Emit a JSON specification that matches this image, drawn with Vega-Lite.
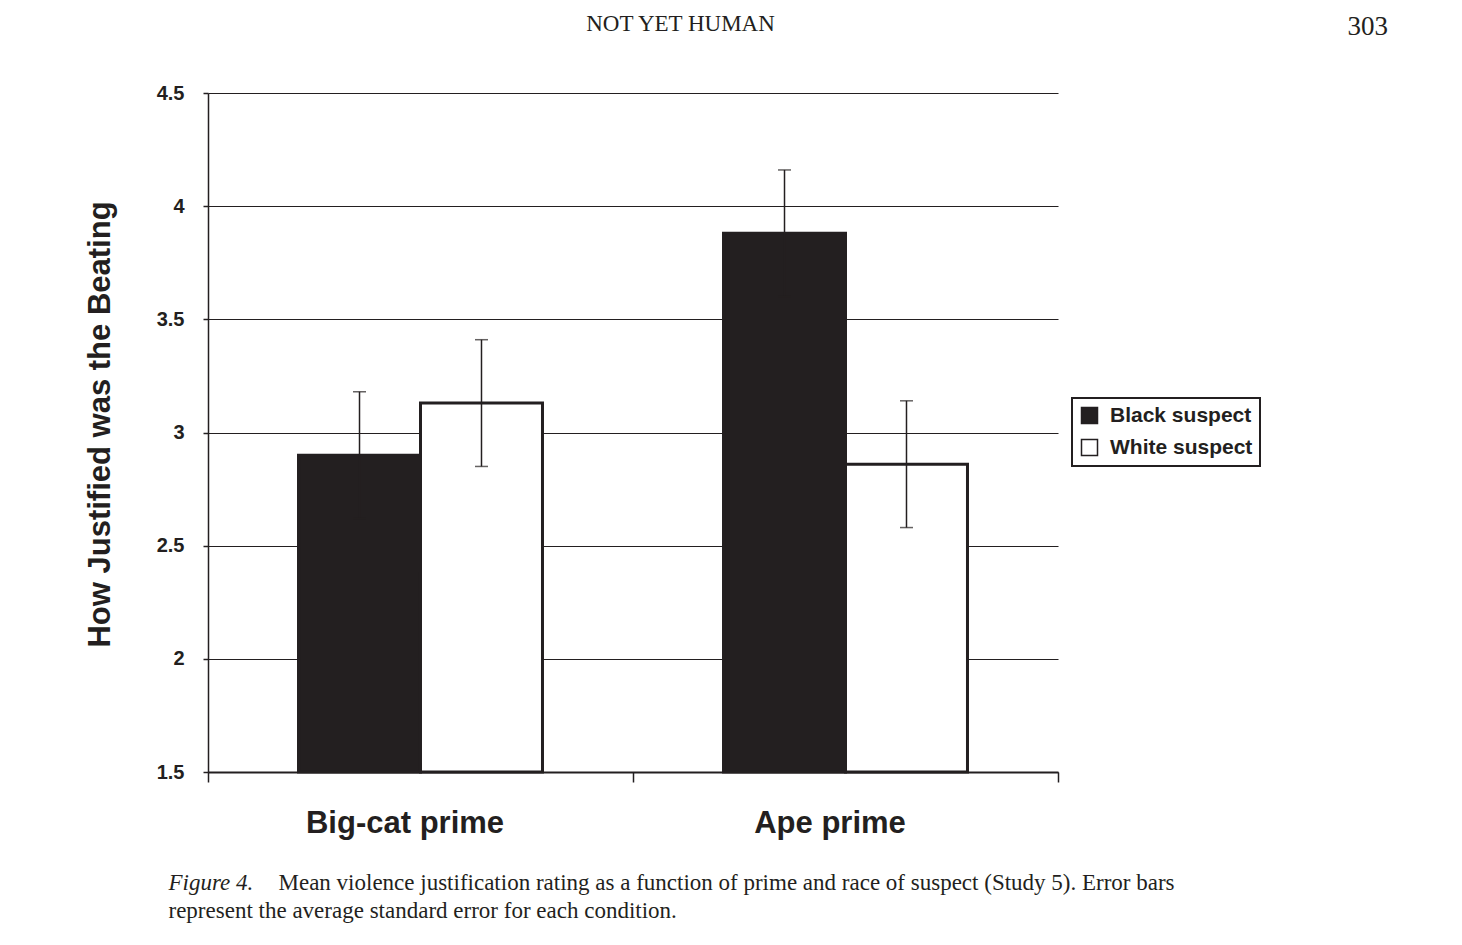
{
  "$schema": "https://vega.github.io/schema/vega-lite/v6.json",
  "width": 850,
  "height": 679,
  "autosize": "none",
  "padding": {"left": 208, "top": 93, "right": 404, "bottom": 173},
  "background": "white",
  "config": {"view": {"stroke": null}, "font": "Liberation Sans"},
  "data": {"values": [
    {"prime": "Big-cat prime", "race": "Black suspect", "mean": 2.90, "lo": 2.62, "hi": 3.18},
    {"prime": "Big-cat prime", "race": "White suspect", "mean": 3.13, "lo": 2.85, "hi": 3.41},
    {"prime": "Ape prime", "race": "Black suspect", "mean": 3.88, "lo": 3.60, "hi": 4.16},
    {"prime": "Ape prime", "race": "White suspect", "mean": 2.86, "lo": 2.58, "hi": 3.14}
  ]},
  "resolve": {"axis": {"x": "independent", "y": "independent"}},
  "layer": [
    {
      "mark": {"type": "bar", "stroke": "#231f20", "strokeWidth": 3},
      "encoding": {
        "x": {
          "field": "prime", "type": "nominal", "sort": ["Big-cat prime", "Ape prime"],
          "scale": {"paddingInner": 0, "paddingOuter": 0},
          "axis": {
            "title": "Mean violence justification rating as a function of prime and race of suspect (Study 5). Error bars",
            "titleFont": "Liberation Serif", "titleFontSize": 23, "titleFontWeight": "normal", "titleColor": "#231f20",
            "titleX": 70, "titleY": 117, "titleAlign": "left", "titleAnchor": "start", "titleBaseline": "alphabetic", "titleLimit": 0,
            "labelAngle": 0, "labelFont": "Liberation Sans", "labelFontSize": 31, "labelFontWeight": "bold", "labelColor": "#231f20",
            "labelPadding": 50, "labelBaseline": "alphabetic", "labelOffset": -16, "labelLimit": 0,
            "tickBand": "extent", "tickSize": 10, "tickColor": "#231f20", "tickWidth": 1.5,
            "domainColor": "#231f20", "domainWidth": 2, "grid": false
          }
        },
        "xOffset": {"field": "race", "type": "nominal", "sort": ["Black suspect", "White suspect"], "scale": {"paddingInner": 0, "paddingOuter": 0.742}},
        "y": {
          "field": "mean", "type": "quantitative",
          "scale": {"domain": [1.5, 4.5], "zero": false, "nice": false},
          "axis": {
            "title": "How Justified was the Beating", "titleFont": "Liberation Sans", "titleFontSize": 31, "titleFontWeight": "bold", "titleColor": "#231f20",
            "titleAngle": -90, "titleX": -108, "titleY": 331, "titleAlign": "center", "titleBaseline": "middle",
            "values": [1.5, 2, 2.5, 3, 3.5, 4, 4.5], "format": "~g",
            "labelFont": "Liberation Sans", "labelFontSize": 20, "labelFontWeight": "bold", "labelColor": "#231f20", "labelPadding": 19,
            "tickSize": 5, "tickColor": "#231f20", "tickWidth": 1.5,
            "domainColor": "#231f20", "domainWidth": 1.5,
            "grid": true, "gridColor": "#231f20", "gridWidth": 1.2, "gridOpacity": 1
          }
        },
        "y2": {"datum": 1.5},
        "color": {
          "field": "race", "type": "nominal",
          "scale": {"domain": ["Black suspect", "White suspect"], "range": ["#231f20", "#ffffff"]},
          "legend": {
            "orient": "none", "legendX": 864, "legendY": 305, "title": null,
            "strokeColor": "#231f20", "fillColor": "#ffffff", "padding": 7,
            "symbolType": "square", "symbolSize": 256, "symbolStrokeColor": "#231f20", "symbolStrokeWidth": 1.5,
            "labelFont": "Liberation Sans", "labelFontSize": 21, "labelFontWeight": "bold", "labelColor": "#231f20",
            "labelOffset": 10, "rowPadding": 9, "labelLimit": 0,
            "encode": {"legend": {"update": {"strokeWidth": {"value": 2}}}}
          }
        }
      }
    },
    {
      "mark": {"type": "rule", "color": "#231f20", "strokeWidth": 1.5},
      "encoding": {
        "x": {
          "field": "prime", "type": "nominal", "sort": ["Big-cat prime", "Ape prime"],
          "axis": {
            "orient": "top", "domain": false, "ticks": false, "labels": false, "grid": false,
            "title": "NOT YET HUMAN", "titleFont": "Liberation Serif", "titleFontSize": 23, "titleFontWeight": "normal", "titleColor": "#231f20",
            "titleX": 472, "titleY": -63, "titleAlign": "center", "titleBaseline": "alphabetic"
          }
        },
        "xOffset": {"field": "race", "type": "nominal", "sort": ["Black suspect", "White suspect"]},
        "y": {
          "field": "lo", "type": "quantitative",
          "axis": {
            "orient": "right", "domain": false, "ticks": false, "tickSize": 0, "grid": false,
            "values": [4.5, 1.5],
            "labelExpr": "datum.value == 4.5 ? '303' : 'Figure 4.'",
            "labelFont": "Liberation Serif",
            "labelFontSize": {"condition": {"test": "datum.value == 4.5", "value": 27}, "value": 23},
            "labelFontStyle": {"condition": {"test": "datum.value == 4.5", "value": "normal"}, "value": "italic"},
            "labelFontWeight": "normal",
            "labelColor": "#231f20",
            "labelPadding": {"condition": {"test": "datum.value == 4.5", "value": 289}, "value": -890},
            "labelOffset": {"condition": {"test": "datum.value == 4.5", "value": -59}, "value": 117},
            "labelBaseline": "alphabetic", "labelAlign": "left",
            "labelFlush": false, "labelBound": false, "labelOverlap": false, "labelLimit": 0,
            "title": "represent the average standard error for each condition.", "titleFont": "Liberation Serif", "titleFontSize": 23, "titleFontWeight": "normal",
            "titleColor": "#231f20", "titleAngle": 0, "titleX": -890, "titleY": 824, "titleAlign": "left", "titleBaseline": "alphabetic", "titleLimit": 0
          }
        },
        "y2": {"field": "hi"}
      }
    },
    {
      "mark": {"type": "tick", "color": "#231f20", "thickness": 1.5, "size": 13},
      "encoding": {
        "x": {"field": "prime", "type": "nominal", "sort": ["Big-cat prime", "Ape prime"], "axis": null},
        "xOffset": {"field": "race", "type": "nominal", "sort": ["Black suspect", "White suspect"]},
        "y": {"field": "hi", "type": "quantitative", "axis": null}
      }
    },
    {
      "mark": {"type": "tick", "color": "#231f20", "thickness": 1.5, "size": 13},
      "encoding": {
        "x": {"field": "prime", "type": "nominal", "sort": ["Big-cat prime", "Ape prime"], "axis": null},
        "xOffset": {"field": "race", "type": "nominal", "sort": ["Black suspect", "White suspect"]},
        "y": {"field": "lo", "type": "quantitative", "axis": null}
      }
    }
  ]
}
